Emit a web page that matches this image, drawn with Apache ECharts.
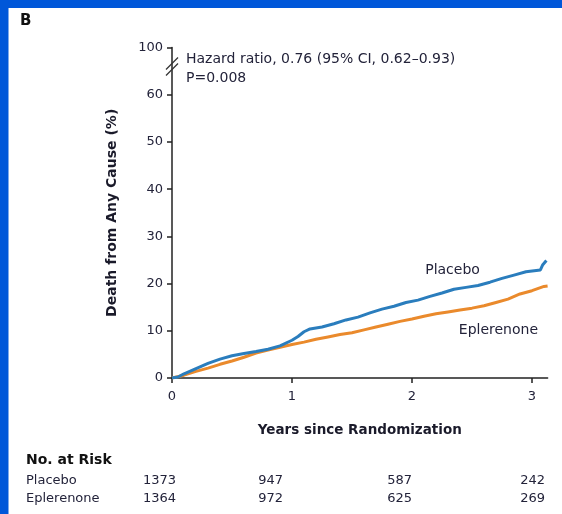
<!DOCTYPE html>
<html>
<head>
<meta charset="utf-8">
<script src="https://cdn.jsdelivr.net/npm/echarts@6/dist/echarts.min.js"></script>
<style>
html,body{margin:0;padding:0;background:#fff;}
#c{width:562px;height:514px;}
</style>
</head>
<body>
<div id="c"></div>
<script>
// ---- data ----
const yearTicks = [0, 1, 2, 3];
const yTickValues = [0, 10, 20, 30, 40, 50, 60, 70];
const yTickLabels = ['0', '10', '20', '30', '40', '50', '60', '100'];
const placebo = [
  [0,0],[0.05,0.2],[0.1,0.9],[0.2,2.0],[0.3,3.1],[0.4,4.0],[0.5,4.7],[0.6,5.2],[0.7,5.6],[0.8,6.1],
  [0.9,6.8],[1.0,8.0],[1.05,8.8],[1.1,9.8],[1.15,10.4],[1.25,10.8],[1.35,11.5],[1.45,12.3],[1.55,12.9],
  [1.65,13.8],[1.75,14.6],[1.85,15.2],[1.95,16.0],[2.05,16.5],[2.15,17.3],[2.25,18.0],[2.35,18.8],
  [2.45,19.2],[2.55,19.6],[2.65,20.3],[2.75,21.1],[2.85,21.8],[2.95,22.5],[3.07,22.9],[3.09,24.0],[3.12,24.9]
];
const eplerenone = [
  [0,0],[0.1,0.6],[0.2,1.4],[0.3,2.1],[0.4,2.9],[0.5,3.6],[0.6,4.4],[0.7,5.3],[0.8,5.9],[0.9,6.5],
  [1.0,7.1],[1.1,7.6],[1.2,8.2],[1.3,8.7],[1.4,9.2],[1.5,9.6],[1.6,10.2],[1.7,10.8],[1.8,11.4],[1.9,12.0],
  [2.0,12.5],[2.1,13.1],[2.2,13.6],[2.3,14.0],[2.4,14.4],[2.5,14.8],[2.6,15.3],[2.7,16.0],[2.8,16.7],
  [2.9,17.8],[3.0,18.5],[3.1,19.4],[3.13,19.5]
];
const riskGroups = ['Placebo', 'Eplerenone'];
const riskPlacebo = [1373, 947, 587, 242];
const riskEplerenone = [1364, 972, 625, 269];
const riskRows = [riskPlacebo, riskEplerenone];
const hazardText = ['Hazard ratio, 0.76 (95% CI, 0.62\u20130.93)', 'P=0.008'];

// ---- layout ----
const FONT = '"DejaVu Sans", sans-serif';
const TXT = '#23233a';
const riskColRight = [176, 283, 412, 545];
const riskRowY = [481, 499];

const chart = echarts.init(document.getElementById('c'), null, {renderer: 'canvas'});
const option = {
  animation: false,
  backgroundColor: '#fff',
  grid: {left: 172, right: 14.4, top: 47.6, bottom: 136, containLabel: false},
  xAxis: {
    type: 'value', min: 0, max: 3.13, interval: 1,
    axisLine: {show: true, onZero: false, lineStyle: {color: '#222', width: 1.5}},
    axisTick: {show: true, length: 5, lineStyle: {color: '#222', width: 1.5}, customValues: yearTicks},
    axisLabel: {color: TXT, fontFamily: FONT, fontSize: 13, margin: 12, customValues: yearTicks},
    splitLine: {show: false},
    name: 'Years since Randomization', nameLocation: 'middle', nameGap: 45,
    nameTextStyle: {color: '#1a1a2a', fontFamily: FONT, fontSize: 13.5, fontWeight: 'bold'}
  },
  yAxis: {
    type: 'value', min: 0, max: 70, interval: 10,
    axisLine: {show: true, lineStyle: {color: '#222', width: 1.5}},
    axisTick: {show: true, length: 5, lineStyle: {color: '#222', width: 1.5}},
    axisLabel: {color: TXT, fontFamily: FONT, fontSize: 13, margin: 9,
      formatter: v => yTickLabels[yTickValues.indexOf(v)]},
    splitLine: {show: false},
    name: 'Death from Any Cause (%)', nameLocation: 'middle', nameGap: 53,
    nameTextStyle: {color: '#1a1a2a', fontFamily: FONT, fontSize: 14, fontWeight: 'bold'}
  },
  series: [
    {name: 'Placebo', type: 'line', data: placebo, showSymbol: false,
     lineStyle: {color: '#2a7dbd', width: 3}, z: 3},
    {name: 'Eplerenone', type: 'line', data: eplerenone, showSymbol: false,
     lineStyle: {color: '#ea8a2c', width: 3}, z: 2}
  ]
};
chart.setOption(option);

// annotations
const g = [];
g.push({type: 'rect', shape: {x: 0, y: 0, width: 562, height: 8}, style: {fill: '#0057d9'}, z: 10});
g.push({type: 'rect', shape: {x: 0, y: 0, width: 8.5, height: 514}, style: {fill: '#0057d9'}, z: 10});
g.push({type: 'text', x: 20, y: 21, style: {text: 'B', font: 'bold 15px ' + FONT, fill: '#111', textVerticalAlign: 'middle'}});
hazardText.forEach((t, i) => g.push({type: 'text', x: 186, y: 59 + i * 19,
  style: {text: t, font: '14px ' + FONT, fill: TXT, textVerticalAlign: 'middle'}}));

// axis break marks
const bp = chart.convertToPixel({gridIndex: 0}, [0, 66]);
[-3, 3].forEach(d => g.push({type: 'line', shape: {x1: bp[0] - 6, y1: bp[1] + 6 + d, x2: bp[0] + 6, y2: bp[1] - 6 + d},
  style: {stroke: '#333', lineWidth: 1.2}, z: 5}));

// curve labels
const pl = chart.convertToPixel({gridIndex: 0}, [2.11, 22.8]);
g.push({type: 'text', x: pl[0], y: pl[1], style: {text: 'Placebo', font: '14px ' + FONT, fill: TXT, textVerticalAlign: 'middle'}});
const el = chart.convertToPixel({gridIndex: 0}, [2.39, 10.0]);
g.push({type: 'text', x: el[0], y: el[1], style: {text: 'Eplerenone', font: '14px ' + FONT, fill: TXT, textVerticalAlign: 'middle'}});

// risk table
g.push({type: 'text', x: 26, y: 460, style: {text: 'No. at Risk', font: 'bold 14px ' + FONT, fill: '#111', textVerticalAlign: 'middle'}});
riskGroups.forEach((name, r) => {
  g.push({type: 'text', x: 26, y: riskRowY[r], style: {text: name, font: '13px ' + FONT, fill: TXT, textVerticalAlign: 'middle'}});
  riskRows[r].forEach((v, c) => g.push({type: 'text', x: riskColRight[c], y: riskRowY[r],
    style: {text: String(v), font: '13px ' + FONT, fill: TXT, textAlign: 'right', textVerticalAlign: 'middle'}}));
});
chart.setOption({graphic: g});
</script>
</body>
</html>
